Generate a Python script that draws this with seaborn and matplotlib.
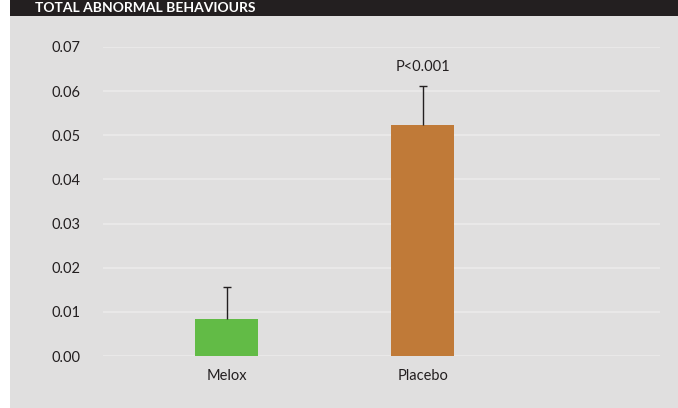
import matplotlib
matplotlib.use("Agg")
import matplotlib.pyplot as plt
import seaborn as sns
import pandas as pd
from matplotlib.patches import Rectangle

categories = ["Melox", "Placebo"]
values = [0.0083, 0.0524]
errors = [0.0073, 0.0088]
bar_colors = ["#62bb46", "#c07a38"]
yticks = [0.00, 0.01, 0.02, 0.03, 0.04, 0.05, 0.06, 0.07]
title = "TOTAL ABNORMAL BEHAVIOURS"
annotation = "P<0.001"

sns.set_theme(style="white")
plt.rcParams['font.family'] = ['Lato', 'DejaVu Sans']

W, H = 678, 408
fig = plt.figure(figsize=(W / 100, H / 100), dpi=100, facecolor="white")
# gray panel and dark title band
fig.patches.append(Rectangle((10 / W, 0), 1 - 10 / W, 1 - 16 / H, transform=fig.transFigure,
                             facecolor="#e0dfdf", edgecolor="none", zorder=-10))
fig.patches.append(Rectangle((10 / W, 1 - 16 / H), 1 - 10 / W, 16 / H, transform=fig.transFigure,
                             facecolor="#231f20", edgecolor="none", zorder=-10))
fig.text(35 / W, 1 - 8 / H, title, color="white", fontsize=10, fontweight="bold",
         ha="left", va="center", zorder=-5)

left, right = 103 / W, 660 / W
bottom, top = 1 - 356 / H, 1 - 47 / H
ax = fig.add_axes([left, bottom, right - left, top - bottom])
ax.set_facecolor("none")

df = pd.DataFrame({"group": categories, "value": values})
sns.barplot(data=df, x="group", y="value", hue="group", palette=bar_colors,
            width=0.32, ax=ax, legend=False, errorbar=None, saturation=1,
            linewidth=0, edgecolor="none", zorder=3)
xs = list(range(len(categories)))
ax.errorbar(xs, values, yerr=[[0] * len(errors), errors],
            fmt="none", ecolor="#231f20", elinewidth=1.0, capsize=0, zorder=4)
tops = [v + e for v, e in zip(values, errors)]
ax.plot(xs, tops, linestyle="none", marker="_", markersize=6, markeredgewidth=1.0,
        color="#231f20", zorder=4)
ax.text(1, 0.0655, annotation, ha="center", va="center", fontsize=10.5, color="#231f20")

ax.set_xlim(-0.63, 2.21)
ax.set_ylim(0, 0.07)
ax.set_yticks(yticks)
ax.set_yticklabels([f"{t:.2f}" for t in yticks])
ax.yaxis.grid(True, color="#ebeaea", linewidth=1.2, zorder=0)
ax.set_axisbelow(True)
for s in ax.spines.values():
    s.set_visible(False)
ax.tick_params(axis="both", length=0, labelsize=10.5, labelcolor="#231f20")
ax.tick_params(axis="y", pad=16)
ax.tick_params(axis="x", pad=9)
ax.set_xlabel("")
ax.set_ylabel("")

fig.savefig("out.png", dpi=100, facecolor="white")
